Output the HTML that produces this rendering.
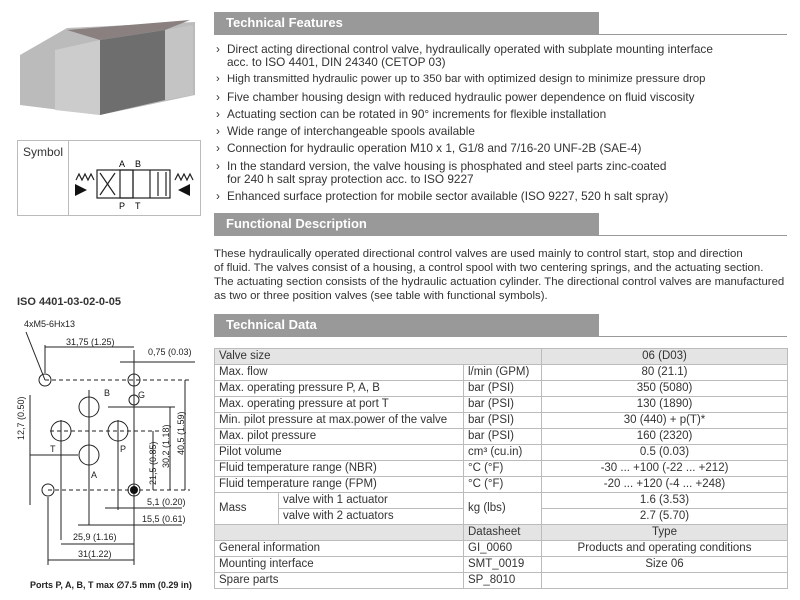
<!DOCTYPE html>
<html><head><meta charset="utf-8"><style>
body{margin:0;width:800px;height:600px;background:#fff;font-family:"Liberation Sans",sans-serif;color:#333;position:relative;overflow:hidden}
.hd{position:absolute;left:214px;width:573px;height:22px;border-bottom:1px solid #999}
.hd div{background:#999;color:#fff;font-weight:bold;font-size:13px;width:373px;height:22px;line-height:22px;padding-left:12px}
ul{position:absolute;left:214px;top:43px;margin:0;padding:0;list-style:none;font-size:11.8px;line-height:13px;width:580px}
ul li{padding-left:13px;position:relative;margin-bottom:4.3px}
ul li:before{content:"›";position:absolute;left:2px}
p{position:absolute;left:214px;top:247px;margin:0;font-size:11.4px;line-height:14px;width:575px}
table{position:absolute;left:214px;top:348px;border-collapse:collapse;font-size:11.5px;width:573px;table-layout:fixed}
td{border:1px solid #bbb;height:15px;padding:0 4px;line-height:15px;white-space:nowrap;overflow:hidden}
tr.g td{background:#e4e4e4}
.c{text-align:center}
</style></head><body>
<svg width="210" height="600" style="position:absolute;left:0;top:0" font-family="Liberation Sans">
<polygon points="20,55 67,28 195,22 195,95 100,115 20,105" fill="#bbb"/>
<polygon points="55,50 100,40 100,115 55,110" fill="#ccc"/>
<polygon points="100,40 165,30 165,100 100,115" fill="#6e6e6e"/>
<polygon points="165,30 193,25 193,95 165,100" fill="#c4c4c4"/>
<polygon points="67,30 190,20 165,30 100,40" fill="#8a8080"/>
<rect x="17.5" y="140.5" width="183" height="75" fill="none" stroke="#bbb"/>
<line x1="68.5" y1="140" x2="68.5" y2="216" stroke="#bbb"/>
<text x="23" y="156" font-size="12" fill="#333">Symbol</text>
<g stroke="#222" fill="none" stroke-width="1.2">
<rect x="97" y="170" width="36" height="28"/><rect x="120" y="170" width="50" height="28"/>
<line x1="133" y1="170" x2="133" y2="198"/><line x1="150" y1="170" x2="150" y2="198"/>
<line x1="100" y1="173" x2="115" y2="195"/><line x1="100" y1="195" x2="115" y2="173"/>
<line x1="158" y1="172" x2="158" y2="196"/><line x1="166" y1="172" x2="166" y2="196"/>
<path d="M76 180 l3-6 3 6 3-6 3 6 3-6 3 6M175 180 l3-6 3 6 3-6 3 6 3-6 3 6"/>
</g>
<polygon points="75,184 87,190 75,196" fill="#111"/><polygon points="190,184 178,190 190,196" fill="#111"/>
<text x="119" y="167" font-size="9">A</text><text x="135" y="167" font-size="9">B</text>
<text x="119" y="209" font-size="9">P</text><text x="135" y="209" font-size="9">T</text>
<text x="17" y="305" font-size="11" font-weight="bold" fill="#333">ISO 4401-03-02-0-05</text>
<g font-size="9" fill="#222" font-family="Liberation Sans Narrow,Liberation Sans" >
<text x="24" y="327">4xM5-6Hx13</text>
<text x="66" y="345">31,75 (1.25)</text>
<text x="148" y="355">0,75 (0.03)</text>
<text x="104" y="396">B</text><text x="138" y="398">G</text>
<text x="50" y="452">T</text><text x="120" y="452">P</text><text x="91" y="478">A</text>
<text x="147" y="505">5,1 (0.20)</text><text x="142" y="522">15,5 (0.61)</text>
<text x="73" y="540">25,9 (1.16)</text><text x="78" y="557">31(1.22)</text>
<text transform="translate(24,440) rotate(-90)">12,7 (0.50)</text>
<text transform="translate(156,485) rotate(-90)">21,5 (0.85)</text>
<text transform="translate(169,468) rotate(-90)">30,2 (1.18)</text>
<text transform="translate(184,455) rotate(-90)">40,5 (1.59)</text>
<text x="30" y="588" font-weight="bold">Ports P, A, B, T max ∅7.5 mm (0.29 in)</text>
</g>
<g stroke="#222" fill="none" stroke-width="1">
<circle cx="45" cy="380" r="6"/><circle cx="134" cy="380" r="6"/><circle cx="134" cy="400" r="5"/>
<circle cx="89" cy="407" r="10"/><circle cx="61" cy="431" r="10"/><circle cx="118" cy="431" r="10"/>
<circle cx="89" cy="455" r="10"/><circle cx="48" cy="490" r="6"/><circle cx="134" cy="490" r="6"/>
<line x1="26" y1="332" x2="45" y2="380"/><line x1="45" y1="347" x2="134" y2="347"/><line x1="45" y1="345" x2="45" y2="373"/>
<line x1="120" y1="362" x2="195" y2="362"/><line x1="134" y1="350" x2="134" y2="565"/>
<line x1="45" y1="380" x2="190" y2="380" stroke-dasharray="4 3"/>
<line x1="48" y1="490" x2="190" y2="490" stroke-dasharray="4 3"/>
<line x1="50" y1="431" x2="160" y2="431" stroke-dasharray="4 3"/>
<line x1="89" y1="390" x2="89" y2="525"/><line x1="61" y1="420" x2="61" y2="540"/><line x1="118" y1="420" x2="118" y2="510"/>
<line x1="108" y1="407" x2="175" y2="407"/><line x1="30" y1="455" x2="78" y2="455"/>
<line x1="30" y1="395" x2="30" y2="505"/><line x1="153" y1="431" x2="153" y2="490"/>
<line x1="170" y1="407" x2="170" y2="490"/><line x1="185" y1="380" x2="185" y2="490"/>
<line x1="105" y1="508" x2="182" y2="508"/><line x1="78" y1="525" x2="182" y2="525"/>
<line x1="61" y1="544" x2="134" y2="544"/><line x1="48" y1="560" x2="134" y2="560"/><line x1="48" y1="497" x2="48" y2="565"/>
</g>
<circle cx="134" cy="490" r="4" fill="#111"/>
</svg>
<div class="hd" style="top:12px"><div>Technical Features</div></div>
<ul>
<li>Direct acting directional control valve, hydraulically operated with subplate mounting interface<br>acc. to ISO 4401, DIN 24340 (CETOP 03)</li>
<li style="font-size:11.3px">High transmitted hydraulic power up to 350 bar with optimized design to minimize pressure drop</li>
<li>Five chamber housing design with reduced hydraulic power dependence on fluid viscosity</li>
<li>Actuating section can be rotated in 90° increments for flexible installation</li>
<li>Wide range of interchangeable spools available</li>
<li>Connection for hydraulic operation M10 x 1, G1/8 and 7/16-20 UNF-2B (SAE-4)</li>
<li>In the standard version, the valve housing is phosphated and steel parts zinc-coated<br>for 240 h salt spray protection acc. to ISO 9227</li>
<li>Enhanced surface protection for mobile sector available (ISO 9227, 520 h salt spray)</li>
</ul>
<div class="hd" style="top:213px"><div>Functional Description</div></div>
<p>These hydraulically operated directional control valves are used mainly to control start, stop and direction<br>of fluid. The valves consist of a housing, a control spool with two centering springs, and the actuating section.<br>The actuating section consists of the hydraulic actuation cylinder. The directional control valves are manufactured<br>as two or three position valves (see table with functional symbols).</p>
<div class="hd" style="top:314px"><div>Technical Data</div></div>
<table>
<colgroup><col style="width:64px"><col style="width:185px"><col style="width:78px"><col style="width:246px"></colgroup>
<tr class="g"><td colspan="3">Valve size</td><td class="c">06 (D03)</td></tr>
<tr><td colspan="2">Max. flow</td><td>l/min (GPM)</td><td class="c">80 (21.1)</td></tr>
<tr><td colspan="2">Max. operating pressure P, A, B</td><td>bar (PSI)</td><td class="c">350 (5080)</td></tr>
<tr><td colspan="2">Max. operating pressure at port T</td><td>bar (PSI)</td><td class="c">130 (1890)</td></tr>
<tr><td colspan="2">Min. pilot pressure at max.power of the valve</td><td>bar (PSI)</td><td class="c">30 (440) + p(T)*</td></tr>
<tr><td colspan="2">Max. pilot pressure</td><td>bar (PSI)</td><td class="c">160 (2320)</td></tr>
<tr><td colspan="2">Pilot volume</td><td>cm³ (cu.in)</td><td class="c">0.5 (0.03)</td></tr>
<tr><td colspan="2">Fluid temperature range (NBR)</td><td>°C (°F)</td><td class="c">-30 ... +100 (-22 ... +212)</td></tr>
<tr><td colspan="2">Fluid temperature range (FPM)</td><td>°C (°F)</td><td class="c">-20 ... +120 (-4 ... +248)</td></tr>
<tr><td rowspan="2">Mass</td><td>valve with 1 actuator</td><td rowspan="2">kg (lbs)</td><td class="c">1.6 (3.53)</td></tr>
<tr><td>valve with 2 actuators</td><td class="c">2.7 (5.70)</td></tr>
<tr class="g"><td colspan="2"></td><td>Datasheet</td><td class="c">Type</td></tr>
<tr><td colspan="2">General information</td><td>GI_0060</td><td class="c">Products and operating conditions</td></tr>
<tr><td colspan="2">Mounting interface</td><td>SMT_0019</td><td class="c">Size 06</td></tr>
<tr><td colspan="2">Spare parts</td><td>SP_8010</td><td class="c"></td></tr>
</table>
</body></html>
